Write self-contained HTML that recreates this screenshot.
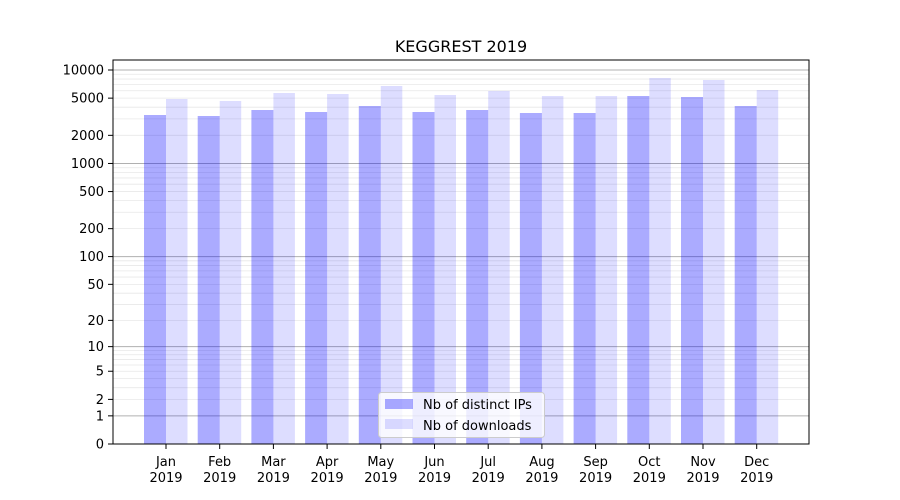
<!DOCTYPE html>
<html><head><meta charset="utf-8"><style>
body{margin:0;background:#fff}
svg{display:block;font-family:"DejaVu Sans","Liberation Sans",sans-serif}
</style></head><body>
<svg id="s" width="900" height="500" xmlns="http://www.w3.org/2000/svg">
<rect width="900" height="500" fill="#fff"/>
<text x="461" y="52" font-size="16" text-anchor="middle">KEGGREST 2019</text>
<g id="grid"></g>
<g id="bars"></g>
<rect x="113" y="60" width="696" height="384" fill="none" stroke="#000" stroke-width="1"/>
<g id="ticks" font-size="13"></g>
<g>
<rect x="378.5" y="392.5" width="166" height="45" rx="3" fill="#fff" fill-opacity="0.8" stroke="#ccc"/>
<rect x="385" y="399" width="28" height="10" fill="#0000ff" fill-opacity="0.33"/>
<text x="423" y="409" font-size="13">Nb of distinct IPs</text>
<rect x="385" y="419" width="28" height="10" fill="#0000ff" fill-opacity="0.135"/>
<text x="423" y="430" font-size="13">Nb of downloads</text>
</g>
</svg>
<script>
var ns="http://www.w3.org/2000/svg";
function el(p,t,a,txt){var e=document.createElementNS(ns,t);for(var k in a)e.setAttribute(k,a[k]);if(txt!==undefined)e.textContent=txt;document.getElementById(p).appendChild(e);return e;}
function Y(v){return 444-93.5*Math.log10(1+v);}
for(var d=1;d<=10000;d*=10){for(var m=1;m<10;m++){var v=d*m;if(v>10000)break;var y=Y(v);
el("grid","line",{x1:113,x2:809,y1:y,y2:y,stroke:m==1?"#b0b0b0":"#e8e8e8","stroke-width":m==1?1:0.8});}}
[0,1,2,5,10,20,50,100,200,500,1000,2000,5000,10000].forEach(function(v){var y=Y(v);
el("ticks","line",{x1:108,x2:113,y1:y,y2:y,stroke:"#000"});
el("ticks","text",{x:104,y:y+4.5,"text-anchor":"end"},String(v));});
var mon=["Jan","Feb","Mar","Apr","May","Jun","Jul","Aug","Sep","Oct","Nov","Dec"];
var bt=[115,116,110,112,106,112,110,113,113,96,97,106];
var lt=[99,101,93,94,86,95,91,96,96,78,80,90];
for(var i=0;i<12;i++){var c=166+i*53.7;
el("bars","rect",{x:c-22,y:bt[i],width:22,height:444-bt[i],fill:"#0000ff","fill-opacity":0.33});
el("bars","rect",{x:c,y:lt[i],width:21.5,height:444-lt[i],fill:"#0000ff","fill-opacity":0.135});
el("ticks","line",{x1:c,x2:c,y1:444,y2:449,stroke:"#000"});
el("ticks","text",{x:c,y:466,"text-anchor":"middle"},mon[i]);
el("ticks","text",{x:c,y:482,"text-anchor":"middle"},"2019");}
</script>
</body></html>
